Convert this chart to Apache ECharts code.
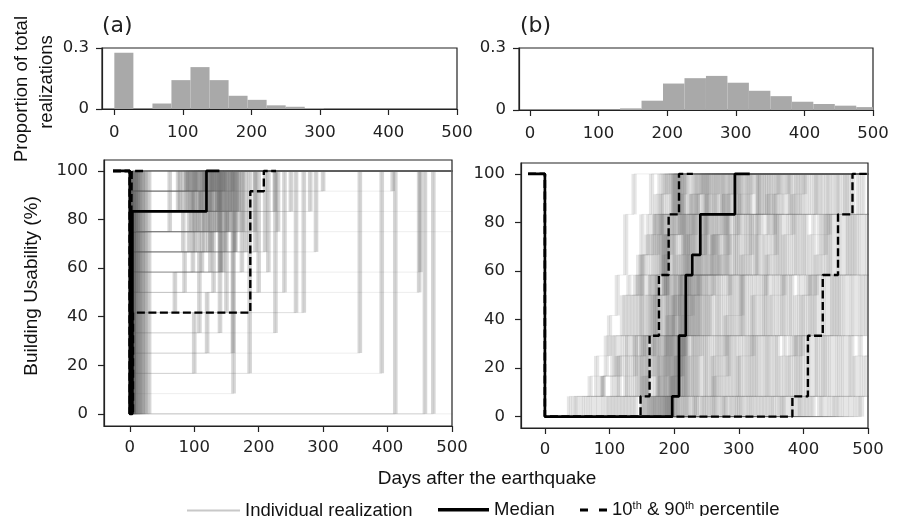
<!DOCTYPE html>
<html>
<head>
<meta charset="utf-8">
<script src="https://cdn.jsdelivr.net/npm/echarts@6/dist/echarts.min.js"></script>
<style>
html,body{margin:0;padding:0;background:#fff;}
#chart{width:901px;height:516px;}
</style>
</head>
<body>
<div id="chart"></div>
<script>
// ---------------- DATA ----------------
const xTicks = [0, 100, 200, 300, 400, 500];
const yTicksHist = [0, 0.3];
const yTicksUse = [0, 20, 40, 60, 80, 100];

// Histogram of full-recovery day, panel (a)
const histEdgesA = [0, 27.8, 55.6, 83.3, 111.1, 138.9, 166.7, 194.4, 222.2, 250, 277.8, 305.6, 333.3, 361.1, 388.9, 416.7, 444.4, 472.2, 500];
const histA = [0.277, 0, 0.027, 0.142, 0.206, 0.142, 0.065, 0.045, 0.018, 0.011, 0.005, 0, 0, 0, 0, 0, 0, 0];
// Histogram of full-recovery day, panel (b)
const histEdgesB = [100, 131.3, 162.6, 193.9, 225.2, 256.5, 287.8, 319.1, 350.4, 381.7, 413, 444.3, 475.6, 506.9];
const histB = [0, 0.008, 0.045, 0.128, 0.154, 0.165, 0.132, 0.093, 0.067, 0.040, 0.029, 0.021, 0.014];

// Usability levels in units of 1/12. Each realization: [day, level, day, level, ...] after the drop to 0 on day 0.
const realizationsA = [
  [2,12],[3,12],[3,6,12,12],[4,12],[5,12],[6,12],[4,9,9,12],[8,12],[10,12],[13,12],[16,12],[20,12],[25,12],[30,12],
  [2,12],[3,12],[4,12],[5,12],[7,12],[9,12],[11,12],[15,12],[18,12],[23,12],
  [4,9,62,12],[4,10,75,12],[5,10,78,12],[4,8,83,12],[4,11,88,12],[4,10,88,12],[5,11,92,12],[4,10,94,12],[4,9,96,12],
  [5,10,98,12],[5,9,100,12],[4,11,102,12],[4,11,104,12],[4,8,107,12],[5,10,110,11,127,12],[5,10,111,12],[4,7,112,12],
  [4,11,113,12],[4,9,115,12],[3,8,116,12],[5,11,118,12],[5,10,119,12],[4,9,121,10,140,12],[4,10,123,12],[5,7,125,12],
  [5,8,127,12],[4,11,129,12],[4,6,130,12],[4,11,131,12],[4,9,133,12],[5,9,135,12],[6,10,136,12],[4,10,138,12],
  [5,4,140,12],[5,7,141,12],[5,10,142,12],[4,11,144,12],[4,8,92,10,146,12],[4,8,148,12],[5,5,150,12],[5,9,151,12],
  [5,9,153,12],[4,7,98,9,156,12],[4,10,158,12],[4,3,160,12],[5,11,160,12],[5,8,163,12],[4,6,85,8,164,12],[4,9,168,12],
  [5,10,169,12],[4,5,70,7,174,12],[5,9,175,12],[6,8,180,12],[4,9,194,12],[4,8,195,12],[5,6,200,12],[5,4,108,8,210,12],
  [4,7,215,12],[4,7,140,10,225,12],[5,9,230,12],[5,3,120,6,240,12],[4,10,250,12],[5,5,258,12],[5,2,100,5,270,12],
  [4,10,280,12],[4,8,289,12],[5,11,300,12],[4,1,161,12],[4,4,226,12],[5,3,357,12],[4,2,186,12],[5,2,391,12],
  [4,11,408,12],[5,7,451,12],[4,6,449,12],[4,10],[5,9],[412,12],[458,12],[471,12],[],
  [4,10,90,12],[5,9,106,12],[4,11,117,12],[5,8,122,12],[4,10,126,12],[5,9,139,12],[4,11,147,12],[5,10,155,12],
  [4,8,101,12],[5,11,134,12],[4,7,145,12],[5,10,166,12]
];
const realizationsB = [
  [38,1,70,2,95,4,120,6,150,8,175,10,200,12],
  [45,1,90,2,140,4,200,6,260,9,330,12],
  [50,1,80,3,100,5,112,7,125,10,138,12],
  [58,1,90,2,110,4,130,7,150,10,165,12],
  [65,1,115,3,150,6,185,9,215,12],
  [72,1,105,4,125,6,145,8,160,10,178,12],
  [80,1,112,3,135,6,152,8,168,10,184,12],
  [88,2,118,4,140,7,158,9,172,11,186,12],
  [95,1,125,4,145,7,165,9,180,11,192,12],
  [100,1,128,4,150,7,170,10,190,12],
  [105,1,134,3,156,6,174,9,198,12],
  [110,1,140,4,160,7,178,10,196,12],
  [115,1,144,4,164,7,182,10,202,12],
  [120,1,148,3,168,6,188,9,210,12],
  [125,1,152,4,170,7,184,10,206,12],
  [130,1,150,4,165,7,180,10,200,12],
  [135,1,156,4,174,7,190,10,212,12],
  [140,1,158,4,172,7,186,10,204,12],
  [150,1,160,3,172,6,185,8,195,10,208,12],
  [152,2,166,4,178,6,190,9,206,12],
  [155,1,168,4,180,7,192,10,214,12],
  [158,2,172,4,185,7,198,9,210,11,220,12],
  [160,1,174,3,188,7,200,10,218,12],
  [162,1,176,4,190,7,202,10,226,12],
  [164,1,178,4,192,7,208,10,234,12],
  [166,1,180,4,194,7,206,8,215,10,231,12],
  [168,1,186,4,198,6,212,8,224,11,242,12],
  [169,1,184,3,197,5,210,7,220,10,236,12],
  [171,1,185,4,199,7,216,10,246,12],
  [172,1,188,4,200,7,214,10,240,12],
  [175,1,191,4,204,7,218,9,228,11,244,12],
  [176,2,190,5,203,7,221,10,250,12],
  [178,1,194,4,207,6,222,8,232,10,248,12],
  [179,1,193,4,208,7,224,9,236,11,254,12],
  [181,1,196,4,210,7,226,10,252,12],
  [183,1,197,4,211,7,230,10,262,12],
  [184,1,198,2,212,5,228,7,238,10,256,12],
  [186,1,200,4,214,7,232,10,260,12],
  [187,1,201,3,215,6,234,8,250,10,268,12],
  [188,1,202,4,216,7,236,8,248,10,265,12],
  [189,1,203,4,219,7,242,10,276,12],
  [190,1,204,3,218,6,240,9,252,11,270,12],
  [192,1,206,4,220,7,244,10,274,12],
  [193,1,207,4,223,7,250,10,285,12],
  [194,1,208,4,222,7,248,10,278,12],
  [195,1,210,4,225,7,252,8,262,10,283,12],
  [196,2,212,4,228,7,256,10,288,12],
  [197,1,213,4,230,7,258,10,294,12],
  [198,1,214,4,231,6,260,9,275,11,292,12],
  [200,1,216,4,234,7,264,10,296,12],
  [201,1,217,4,236,7,266,9,282,11,298,12],
  [204,1,219,4,238,7,268,10,300,12],
  [206,1,221,4,240,7,270,10,303,12],
  [208,1,223,3,242,7,272,8,285,10,305,12],
  [212,1,227,4,246,7,276,10,310,12],
  [214,1,230,4,249,7,279,10,313,12],
  [217,1,232,4,251,7,281,10,316,12],
  [220,1,236,4,255,7,284,10,319,12],
  [222,1,238,4,257,6,286,9,300,11,322,12],
  [228,1,245,4,264,7,292,10,328,12],
  [231,1,249,4,268,7,295,10,331,12],
  [234,1,252,4,272,7,298,10,334,12],
  [235,1,258,4,278,7,302,10,338,12],
  [241,1,260,3,280,5,305,8,320,10,341,12],
  [245,1,264,4,284,7,308,10,345,12],
  [248,1,268,4,288,7,312,10,348,12],
  [252,1,272,4,292,7,316,10,352,12],
  [256,1,277,4,297,7,320,10,356,12],
  [260,1,282,4,302,7,326,10,360,12],
  [262,2,284,4,305,7,328,9,345,11,362,12],
  [265,1,287,4,307,7,330,10,365,12],
  [270,1,292,4,312,7,336,10,370,12],
  [275,1,297,4,318,7,341,9,355,11,375,12],
  [278,1,300,3,322,6,344,8,358,10,378,12],
  [280,1,303,4,324,7,347,10,380,12],
  [286,1,309,4,330,7,353,10,386,12],
  [290,1,314,4,336,7,358,10,390,12],
  [295,1,318,4,340,7,362,10,394,12],
  [298,1,322,4,343,7,366,10,398,12],
  [302,1,326,4,348,6,370,9,384,11,402,12],
  [305,1,330,4,352,7,374,10,404,12],
  [311,1,336,4,358,7,380,10,411,12],
  [316,1,342,4,364,7,386,10,418,12],
  [320,1,345,4,368,7,390,10,420,12],
  [325,1,350,4,372,7,395,10,425,12],
  [330,1,356,4,378,7,400,10,430,12],
  [335,1,360,4,382,7,404,10,436,12],
  [340,1,365,3,388,6,410,9,440,12],
  [345,1,371,4,394,7,416,10,446,12],
  [350,1,376,3,398,6,420,8,434,10,452,12],
  [354,1,380,4,402,7,425,10,455,12],
  [360,1,386,4,408,7,430,10,462,12],
  [365,1,390,4,412,7,436,10,466,12],
  [368,1,394,4,416,7,440,10,470,12],
  [372,1,398,4,420,7,444,10,476,12],
  [380,1,405,4,428,7,452,10,485,12],
  [385,1,410,4,434,7,458,10,492,12],
  [392,1,418,4,442,7,466,10,505,12],
  [395,1,422,4,446,7,470,10],
  [400,1,428,4,450,7,474,10],
  [405,1,432,4,454,7,478,10],
  [410,1,436,4,458,7,482,10],
  [415,1,442,4,464,7,488,10],
  [425,1,450,4,472,7,496,10],
  [430,1,456,4,478,7],
  [438,1,462,4,486,7],
  [445,1,470,4,492,7],
  [450,1,475,4,498,7],
  [455,1,480,3],
  [462,1,488,4],
  [470,1,495,3],
  [478,1],
  [485,1],
  [490,1]
];

// Median and percentile curves (same notation; the last pair marks where the curve ends)
const medianA = [4,10,119,12,139,12];
const p10A = [3,12,22,12];
const p90A = [5,5,187,11,208,12,227,12];
const medianB = [197,1,207.5,4,218,7,228,8,240.5,10,294,12,317,12];
const p10B = [148,1,162,4,176.5,7,191.5,10,207.5,12,229,12];
const p90B = [383,1,407,4,430,7,453.6,10,476,12,498,12];

// ---------------- BUILD ----------------
const UNIT = 100 / 12;
const START_DAY = -26;
function stepPath(tr, extend) {
  const pts = [[START_DAY, 100], [0, 100], [0, 0]];
  let y = 0;
  for (let i = 0; i < tr.length; i += 2) {
    const t = tr[i], v = tr[i + 1] * UNIT;
    pts.push([t, y]);
    pts.push([t, v]);
    y = v;
  }
  if (extend) pts.push([540, y]);
  return pts;
}
function histData(edges, vals) {
  return vals.map((v, i) => [edges[i], edges[i + 1], v]);
}

const TICK_FONT = 'DejaVu Sans';
const AX = '#222';
function xAxisCfg(grid, min, margin) {
  return {
    type: 'value', gridIndex: grid, min: min, max: 500,
    axisLine: { show: true, onZero: false, lineStyle: { color: AX, width: 1.2 } },
    axisTick: { show: true, customValues: xTicks, length: 6, lineStyle: { color: AX, width: 1.2 } },
    axisLabel: { customValues: xTicks, margin: margin, fontFamily: TICK_FONT, fontSize: 16.5, color: AX },
    splitLine: { show: false }
  };
}
function yAxisCfg(grid, min, max, ticks, margin) {
  return {
    type: 'value', gridIndex: grid, min: min, max: max,
    axisLine: { show: true, onZero: false, lineStyle: { color: AX, width: 1.2 } },
    axisTick: { show: true, customValues: ticks, length: 6, lineStyle: { color: AX, width: 1.2 } },
    axisLabel: { customValues: ticks, margin: margin, fontFamily: TICK_FONT, fontSize: 16.5, color: AX },
    splitLine: { show: false }
  };
}

const series = [];
function histSeries(grid, edges, vals) {
  return {
    type: 'custom', xAxisIndex: grid, yAxisIndex: grid,
    data: histData(edges, vals),
    encode: { x: [0, 1], y: 2 },
    silent: true,
    renderItem: function (params, api) {
      const p0 = api.coord([api.value(0), api.value(2)]);
      const p1 = api.coord([api.value(1), 0]);
      const rect = echarts.graphic.clipRectByRect(
        { x: p0[0], y: p0[1], width: p1[0] - p0[0], height: p1[1] - p0[1] },
        { x: params.coordSys.x, y: params.coordSys.y, width: params.coordSys.width, height: params.coordSys.height });
      return rect && { type: 'rect', shape: rect, style: { fill: '#a9a9a9' } };
    }
  };
}
series.push(histSeries(0, histEdgesA, histA));
series.push(histSeries(1, histEdgesB, histB));

// thin full paths of each realization
const GREY_THIN = 'rgba(100,100,100,0.11)';
function addRealizations(list, grid) {
  list.forEach(tr => {
    series.push({
      type: 'line', name: 'Individual realization', xAxisIndex: grid, yAxisIndex: grid,
      data: stepPath(tr, true), symbol: 'none', silent: true, z: 2,
      lineStyle: { color: GREY_THIN, width: 1 }, itemStyle: { color: '#c8c8c8' }
    });
  });
}
addRealizations(realizationsA, 2);
addRealizations(realizationsB, 3);

// the recovery steps (vertical segments) of the same realizations, stroked wider so overlaps build density
function stepDensity(list, grid, w, color) {
  return {
    type: 'custom', xAxisIndex: grid, yAxisIndex: grid, silent: true, clip: true, z: 2,
    data: list.map((tr, i) => [0, 0, i]),
    encode: { x: 0, y: 1 },
    renderItem: function (params, api) {
      const tr = list[api.value(2)];
      const children = [];
      let y = 0;
      for (let i = 0; i < tr.length; i += 2) {
        const t = tr[i], v = tr[i + 1] * UNIT;
        if (t <= 500) {
          const a = api.coord([t, y]), b = api.coord([t, v]);
          children.push({ type: 'line', shape: { x1: a[0], y1: a[1], x2: b[0], y2: b[1] },
            style: { stroke: color, lineWidth: w } });
        }
        y = v;
      }
      return { type: 'group', children: children };
    }
  };
}
series.push(stepDensity(realizationsA, 2, 4.6, 'rgba(120,120,120,0.3)'));
series.push(stepDensity(realizationsB, 3, 5.2, 'rgba(120,120,120,0.19)'));

function addCurve(tr, grid, name, dashed) {
  series.push({
    type: 'line', name: name, xAxisIndex: grid, yAxisIndex: grid,
    data: stepPath(tr, false), symbol: 'none', silent: true, z: dashed ? 4 : 3,
    lineStyle: { color: '#000', width: dashed ? 2.4 : 2.7, type: dashed ? [8, 3.5] : 'solid' },
    itemStyle: { color: '#000' }
  });
}
addCurve(medianA, 2, 'Median', false);
addCurve(medianB, 3, 'Median', false);
addCurve(p10A, 2, '10th & 90th percentile', true);
addCurve(p90A, 2, '10th & 90th percentile', true);
addCurve(p10B, 3, '10th & 90th percentile', true);
addCurve(p90B, 3, '10th & 90th percentile', true);

const LEG_FONT = 'Liberation Sans';
const legText = { fontFamily: LEG_FONT, fontSize: 18.5, color: '#111' };
const option = {
  animation: false,
  backgroundColor: '#fff',
  grid: [
    { left: 102, top: 48, width: 355, height: 61, show: true, borderColor: AX, borderWidth: 1.2 },
    { left: 519, top: 48, width: 354, height: 62, show: true, borderColor: AX, borderWidth: 1.2 },
    { left: 104, top: 160, width: 348, height: 266, show: true, borderColor: AX, borderWidth: 1.2 },
    { left: 521, top: 163, width: 347, height: 265, show: true, borderColor: AX, borderWidth: 1.2 }
  ],
  xAxis: [xAxisCfg(0, -18, 15), xAxisCfg(1, -16, 15), xAxisCfg(2, -40, 13), xAxisCfg(3, -37, 13)],
  yAxis: [
    yAxisCfg(0, 0, 0.3, yTicksHist, 13),
    yAxisCfg(1, 0, 0.3, yTicksHist, 13),
    yAxisCfg(2, -5, 104.5, yTicksUse, 16),
    yAxisCfg(3, -4.7, 104.5, yTicksUse, 16)
  ],
  legend: [
    { left: 187, top: 501, padding: 0, itemWidth: 53, itemHeight: 2, selectedMode: false,
      data: [{ name: 'Individual realization', icon: 'rect', itemStyle: { color: '#c8c8c8' } }],
      textStyle: legText },
    { left: 438, top: 500.25, padding: 0, itemWidth: 51, itemHeight: 3.5, selectedMode: false,
      data: [{ name: 'Median', icon: 'rect', itemStyle: { color: '#000' } }],
      textStyle: legText },
    { left: 580, top: 500.5, padding: 0, itemWidth: 27, itemHeight: 3, selectedMode: false,
      data: [{ name: '10th & 90th percentile', icon: 'path://M0,0h8v3h-8zM19,0h8v3h-8z', itemStyle: { color: '#000' } }],
      formatter: function () { return '10{s|th} & 90{s|th} percentile'; },
      textStyle: Object.assign({}, legText, {
        rich: { s: { fontFamily: LEG_FONT, fontSize: 11, verticalAlign: 'top', lineHeight: 10, color: '#111' } } }) }
  ],
  graphic: [
    { type: 'text', x: 102, y: 26, style: { text: '(a)', font: '22px "DejaVu Sans"', fill: '#222', align: 'left', verticalAlign: 'middle' } },
    { type: 'text', x: 520, y: 26, style: { text: '(b)', font: '22px "DejaVu Sans"', fill: '#222', align: 'left', verticalAlign: 'middle' } },
    { type: 'text', x: 22, y: 89, rotation: Math.PI / 2, style: { text: 'Proportion of total', font: '18.5px "Liberation Sans"', fill: '#111', align: 'center', verticalAlign: 'middle' } },
    { type: 'text', x: 47, y: 82, rotation: Math.PI / 2, style: { text: 'realizations', font: '18.5px "Liberation Sans"', fill: '#111', align: 'center', verticalAlign: 'middle' } },
    { type: 'text', x: 32, y: 286, rotation: Math.PI / 2, style: { text: 'Building Usability (%)', font: '19px "Liberation Sans"', fill: '#111', align: 'center', verticalAlign: 'middle' } },
    { type: 'text', x: 487, y: 479, style: { text: 'Days after the earthquake', font: '19px "Liberation Sans"', fill: '#111', align: 'center', verticalAlign: 'middle' } }
  ],
  series: series
};

const chart = echarts.init(document.getElementById('chart'), null, { renderer: 'canvas' });
chart.setOption(option);
</script>
</body>
</html>
